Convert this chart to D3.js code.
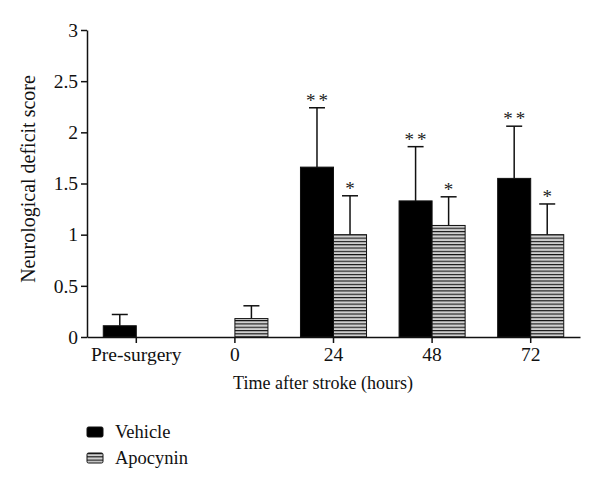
<!DOCTYPE html>
<html>
<head>
<meta charset="utf-8">
<script src="https://cdn.jsdelivr.net/npm/d3@7"></script>
<style>
  body { margin: 0; background: #fff; }
  text { font-family: "Liberation Serif", "DejaVu Serif", serif; fill: #111; }
</style>
</head>
<body>
<div id="wrapper"></div>
<script>
const w = 600
const h = 490

// data
const categories = ['Pre-surgery', '0', '24', '48', '72']
const groups = ['Vehicle', 'Apocynin']
const vehicleMean = [0.11, 0, 1.66, 1.33, 1.55]
const vehicleErr = [0.11, 0, 0.58, 0.53, 0.51]
const apocyninMean = [0, 0.18, 1.0, 1.09, 1.0]
const apocyninErr = [0, 0.125, 0.38, 0.28, 0.30]
const vehicleStars = ['', '', '**', '**', '**']
const apocyninStars = ['', '', '*', '*', '*']
const yTicks = [0, 0.5, 1, 1.5, 2, 2.5, 3]

const margin = { left: 87, right: 20, top: 30, bottom: 153 }

const svg = d3.select('#wrapper').append('svg')
  .attr('width', w)
  .attr('height', h)

// horizontal stripes for the apocynin bars
const defs = svg.append('defs')
const pat = defs.append('pattern')
  .attr('id', 'stripes')
  .attr('patternUnits', 'userSpaceOnUse')
  .attr('width', 6)
  .attr('height', 3.3)
pat.append('rect').attr('width', 6).attr('height', 3.3).attr('fill', '#cfcfcf')
pat.append('rect').attr('y', 0).attr('width', 6).attr('height', 1.1).attr('fill', '#111')

const x = d3.scaleBand()
  .domain(categories)
  .range([margin.left, w - margin.right])
  .paddingInner(0.33)
  .paddingOuter(0.165)

const xSub = d3.scaleBand()
  .domain(groups)
  .range([0, x.bandwidth()])

const y = d3.scaleLinear()
  .domain([0, 3])
  .range([h - margin.bottom, margin.top])

const rows = categories.map((c, i) => [
  { cat: c, g: 'Vehicle', v: vehicleMean[i], e: vehicleErr[i], s: vehicleStars[i] },
  { cat: c, g: 'Apocynin', v: apocyninMean[i], e: apocyninErr[i], s: apocyninStars[i] }
]).flat()

const fill = g => g === 'Vehicle' ? '#000' : 'url(#stripes)'
const cx = d => x(d.cat) + xSub(d.g) + xSub.bandwidth() / 2

// error bars (only upward)
const eb = svg.append('g')
  .selectAll('g')
  .data(rows.filter(d => d.e > 0))
  .join('g')
eb.append('line')
  .attr('x1', cx)
  .attr('x2', cx)
  .attr('y1', d => y(d.v))
  .attr('y2', d => y(d.v + d.e))
  .attr('stroke', '#111')
  .attr('stroke-width', 1.5)
eb.append('line')
  .attr('x1', d => cx(d) - 8)
  .attr('x2', d => cx(d) + 8)
  .attr('y1', d => y(d.v + d.e))
  .attr('y2', d => y(d.v + d.e))
  .attr('stroke', '#111')
  .attr('stroke-width', 1.5)

// bars
svg.append('g')
  .selectAll('rect')
  .data(rows.filter(d => d.v > 0))
  .join('rect')
  .attr('x', d => x(d.cat) + xSub(d.g))
  .attr('y', d => y(d.v))
  .attr('width', xSub.bandwidth())
  .attr('height', d => y(0) - y(d.v))
  .attr('fill', d => fill(d.g))
  .attr('stroke', '#111')
  .attr('stroke-width', 1)

// significance stars
svg.append('g')
  .selectAll('text')
  .data(rows.filter(d => d.s))
  .join('text')
  .attr('x', d => cx(d) + (d.s.length > 1 ? 1.5 : 0))
  .attr('y', d => y(d.v + d.e) - 1)
  .attr('text-anchor', 'middle')
  .style('font-size', '19px')
  .style('fill', '#222')
  .style('letter-spacing', d => d.s.length > 1 ? '3px' : '0px')
  .text(d => d.s)

// axes
const yAxis = svg.append('g')
  .attr('transform', `translate(${margin.left},0)`)
  .call(d3.axisLeft(y).tickValues(yTicks).tickSize(6).tickSizeOuter(0).tickFormat(d3.format('')))
yAxis.select('.domain').attr('stroke', '#111').attr('stroke-width', 1.5)
yAxis.selectAll('.tick line').attr('stroke', '#111').attr('stroke-width', 1.5)
yAxis.selectAll('.tick text')
  .attr('x', -9)
  .style('font-size', '19.5px')
  .style('font-family', '"Liberation Serif", serif')

const xAxis = svg.append('g')
  .attr('transform', `translate(0,${y(0)})`)
  .call(d3.axisBottom(x).tickSize(6).tickSizeOuter(0))
xAxis.select('.domain').attr('stroke', '#111').attr('stroke-width', 1.5)
xAxis.selectAll('.tick line').attr('stroke', '#111').attr('stroke-width', 1.5)
xAxis.selectAll('.tick text')
  .attr('y', 10)
  .style('font-size', '19.5px')
  .style('font-family', '"Liberation Serif", serif')

// axis titles
svg.append('text')
  .attr('x', 323)
  .attr('y', 389)
  .attr('text-anchor', 'middle')
  .style('font-size', '18px')
  .text('Time after stroke (hours)')

svg.append('text')
  .attr('transform', 'translate(35,179) rotate(-90)')
  .attr('text-anchor', 'middle')
  .style('font-size', '20px')
  .text('Neurological deficit score')

// legend
const legend = svg.append('g')
  .selectAll('g')
  .data(groups)
  .join('g')
  .attr('transform', (d, i) => `translate(87,${427 + i * 26})`)
legend.append('rect')
  .attr('width', 16)
  .attr('height', 10)
  .attr('rx', 1.5)
  .attr('fill', d => fill(d))
  .attr('stroke', '#111')
  .attr('stroke-width', 1)
legend.append('text')
  .attr('x', 28)
  .attr('y', 11)
  .style('font-size', '18.5px')
  .text(d => d)
</script>
</body>
</html>
